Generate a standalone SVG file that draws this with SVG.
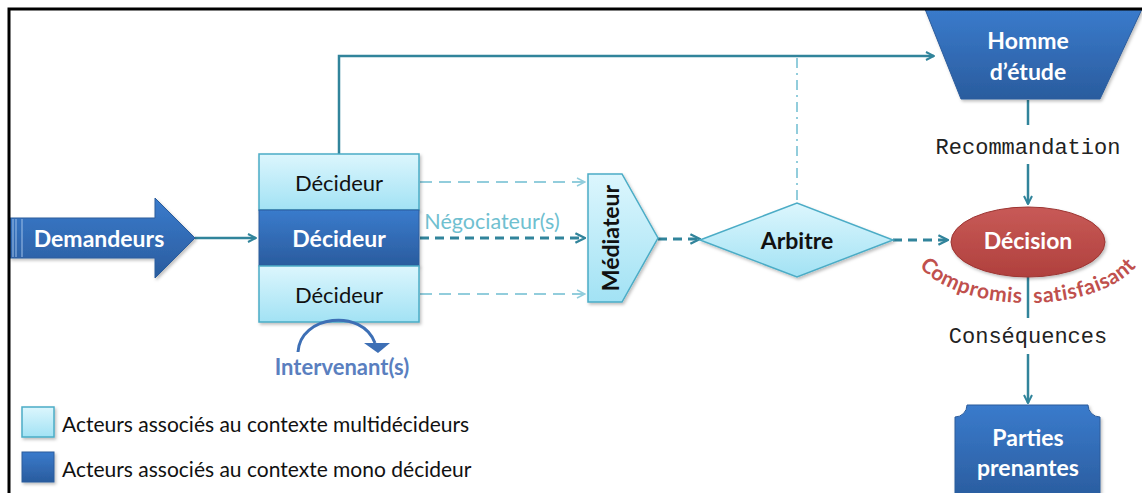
<svg xmlns="http://www.w3.org/2000/svg" width="1142" height="493" viewBox="0 0 1142 493">
  <style>
    .lbl { font-family: Lato, "Open Sans", "Liberation Sans", sans-serif; text-anchor: middle; dominant-baseline: central; }
    .white { fill: #ffffff; font-weight: bold; font-size: 23px; }
    .black { fill: #111111; font-weight: bold; font-size: 23px; }
    .plain { fill: #111111; font-size: 22px; }
    .mono { font-family: "Liberation Mono", "Courier New", monospace; font-size: 22px; fill: #222; text-anchor: middle; }
    .legend { font-family: Lato, "Open Sans", "Liberation Sans", sans-serif; font-size: 21px; fill: #111; dominant-baseline: central; }
    .arc { font-family: Lato, "Open Sans", "Liberation Sans", sans-serif; font-size: 21px; font-weight: bold; fill: #c0504d; letter-spacing: 0.6px; }
    .conn { fill: none; stroke: #31849b; stroke-width: 2.5; }
    .dash { fill: none; stroke: #31849b; stroke-width: 3; stroke-dasharray: 9 6; }
    .dashlight { fill: none; stroke: #92cddc; stroke-width: 2; stroke-dasharray: 12 7; }
    .light { fill: url(#gLight); stroke: #4bacc6; stroke-width: 1.5; }
    .dark { fill: url(#gDark); stroke: #2c5c9c; stroke-width: 1; }
  </style>
  <defs>
    <linearGradient id="gLight" x1="0" y1="0" x2="0" y2="1">
      <stop offset="0" stop-color="#dcf6fd"/>
      <stop offset="1" stop-color="#a2e2f4"/>
    </linearGradient>
    <linearGradient id="gDark" x1="0" y1="0" x2="0" y2="1">
      <stop offset="0" stop-color="#3a7bcc"/>
      <stop offset="1" stop-color="#2a5c9e"/>
    </linearGradient>
    <linearGradient id="gRed" x1="0" y1="0" x2="0" y2="1">
      <stop offset="0" stop-color="#c85a57"/>
      <stop offset="1" stop-color="#b0403d"/>
    </linearGradient>
    <filter id="shadow" x="-10%" y="-10%" width="130%" height="130%">
      <feDropShadow dx="1.5" dy="2" stdDeviation="1.5" flood-color="#000" flood-opacity="0.25"/>
    </filter>
    <marker id="arr" viewBox="0 0 10 10" refX="9" refY="5" markerWidth="4" markerHeight="4" orient="auto">
      <path d="M1,1 L9,5 L1,9" fill="none" stroke="#31849b" stroke-width="2"/>
    </marker>
    <marker id="arrLight" viewBox="0 0 10 10" refX="9" refY="5" markerWidth="5" markerHeight="5" orient="auto">
      <path d="M1,1 L9,5 L1,9" fill="none" stroke="#92cddc" stroke-width="1.5"/>
    </marker>
    <!-- baseline of the curved caption under the decision ellipse -->
    <path id="arcText" d="M 911,244 A 117 59 0 0 0 1145,244"/>
  </defs>

  <rect width="1142" height="493" fill="#ffffff"/>

  <!-- connectors -->
  <g id="connectors">
    <path class="conn" d="M195,238 H256" marker-end="url(#arr)"/>
    <path class="conn" d="M339,154 V56 H934" marker-end="url(#arr)"/>
    <path d="M797,58 V203" fill="none" stroke="#92cddc" stroke-width="2" stroke-dasharray="10 5 2 5"/>
    <path class="dashlight" d="M420,182 H585" marker-end="url(#arrLight)"/>
    <path class="dash" d="M420,238 H585" marker-end="url(#arr)"/>
    <path class="dashlight" d="M420,294 H585" marker-end="url(#arrLight)"/>
    <path class="dash" d="M658,239 H700" marker-end="url(#arr)"/>
    <path class="dash" d="M893,240 H948" marker-end="url(#arr)"/>
    <path class="conn" d="M1028,100 V125"/>
    <path class="conn" d="M1028,164 V204" marker-end="url(#arr)"/>
    <path class="conn" d="M1028,277 V318"/>
    <path class="conn" d="M1028,354 V403" marker-end="url(#arr)"/>
  </g>

  <!-- Demandeurs block arrow -->
  <g id="demandeurs">
    <path class="dark" filter="url(#shadow)" d="M10,218 H155 V198 L195,238 L155,278 V258 H10 Z"/>
    <path d="M13,219 V257 M16,219 V257 M22,219 V257" stroke="#9fc0e8" stroke-width="1"/>
    <text class="lbl white" x="99" y="238">Demandeurs</text>
  </g>

  <!-- Décideurs -->
  <g id="decideur-haut">
    <rect class="light" filter="url(#shadow)" x="259" y="154" width="160" height="56"/>
    <text class="lbl plain" x="339" y="182">Décideur</text>
  </g>
  <g id="decideur-milieu">
    <rect class="dark" filter="url(#shadow)" x="259" y="210" width="160" height="56"/>
    <text class="lbl white" x="339" y="238" font-size="22">Décideur</text>
  </g>
  <g id="decideur-bas">
    <rect class="light" filter="url(#shadow)" x="259" y="266" width="160" height="56"/>
    <text class="lbl plain" x="339" y="294">Décideur</text>
  </g>

  <text id="negociateurs" class="lbl" x="492" y="221" font-size="21.5" fill="#6fc0d0">Négociateur(s)</text>

  <!-- Intervenant(s) -->
  <g id="intervenants">
    <path d="M298,352 C300,315 362,308 375,343" fill="none" stroke="#3d6fb5" stroke-width="3"/>
    <path d="M364,343 L390,343 L378,353 Z" fill="#3d6fb5"/>
    <text class="lbl" x="342" y="366" font-size="22" font-weight="bold" fill="#5a7fbf">Intervenant(s)</text>
  </g>

  <!-- Médiateur -->
  <g id="mediateur">
    <path class="light" filter="url(#shadow)" d="M588,174 H622 L658,238 L622,302 H588 Z"/>
    <text class="lbl black" transform="translate(610,238) rotate(-90)">Médiateur</text>
  </g>

  <!-- Arbitre -->
  <g id="arbitre">
    <path class="light" filter="url(#shadow)" d="M700,240 L797,203 L893,240 L797,277 Z"/>
    <text class="lbl black" x="797" y="240">Arbitre</text>
  </g>

  <!-- Homme d'étude -->
  <g id="homme-etude">
    <path class="dark" filter="url(#shadow)" d="M925,9 H1142 L1100,99 H961 Z"/>
    <text class="lbl white" x="1028" y="40">Homme</text>
    <text class="lbl white" x="1028" y="71">d’étude</text>
  </g>

  <text class="mono" x="1028" y="154">Recommandation</text>

  <!-- Décision -->
  <g id="decision">
    <ellipse cx="1028" cy="242" rx="77" ry="35" fill="url(#gRed)" stroke="#9c3532" stroke-width="1" filter="url(#shadow)"/>
    <text class="lbl white" x="1028" y="240">Décision</text>
  </g>

  <text class="arc"><textPath href="#arcText" startOffset="48%" text-anchor="end">Compromis</textPath></text>
  <text class="arc"><textPath href="#arcText" startOffset="52%" text-anchor="start">satisfaisant</textPath></text>

  <text class="mono" x="1028" y="343">Conséquences</text>

  <!-- Parties prenantes -->
  <g id="parties-prenantes">
    <path class="dark" filter="url(#shadow)" d="M967,405 H1088 A12,12 0 0 0 1100,417 V500 H955 V417 A12,12 0 0 0 967,405 Z"/>
    <text class="lbl white" x="1028" y="437">Parties</text>
    <text class="lbl white" x="1028" y="467">prenantes</text>
  </g>

  <!-- legend -->
  <g id="legende">
    <rect class="light" filter="url(#shadow)" x="22" y="407" width="32" height="30"/>
    <text class="legend" x="62" y="423">Acteurs associés au contexte multidécideurs</text>
    <rect class="dark" filter="url(#shadow)" x="22" y="452" width="32" height="30"/>
    <text class="legend" x="62" y="468">Acteurs associés au contexte mono décideur</text>
  </g>

  <!-- frame -->
  <path d="M9,493 V9 H1142" fill="none" stroke="#000" stroke-width="3"/>
</svg>
